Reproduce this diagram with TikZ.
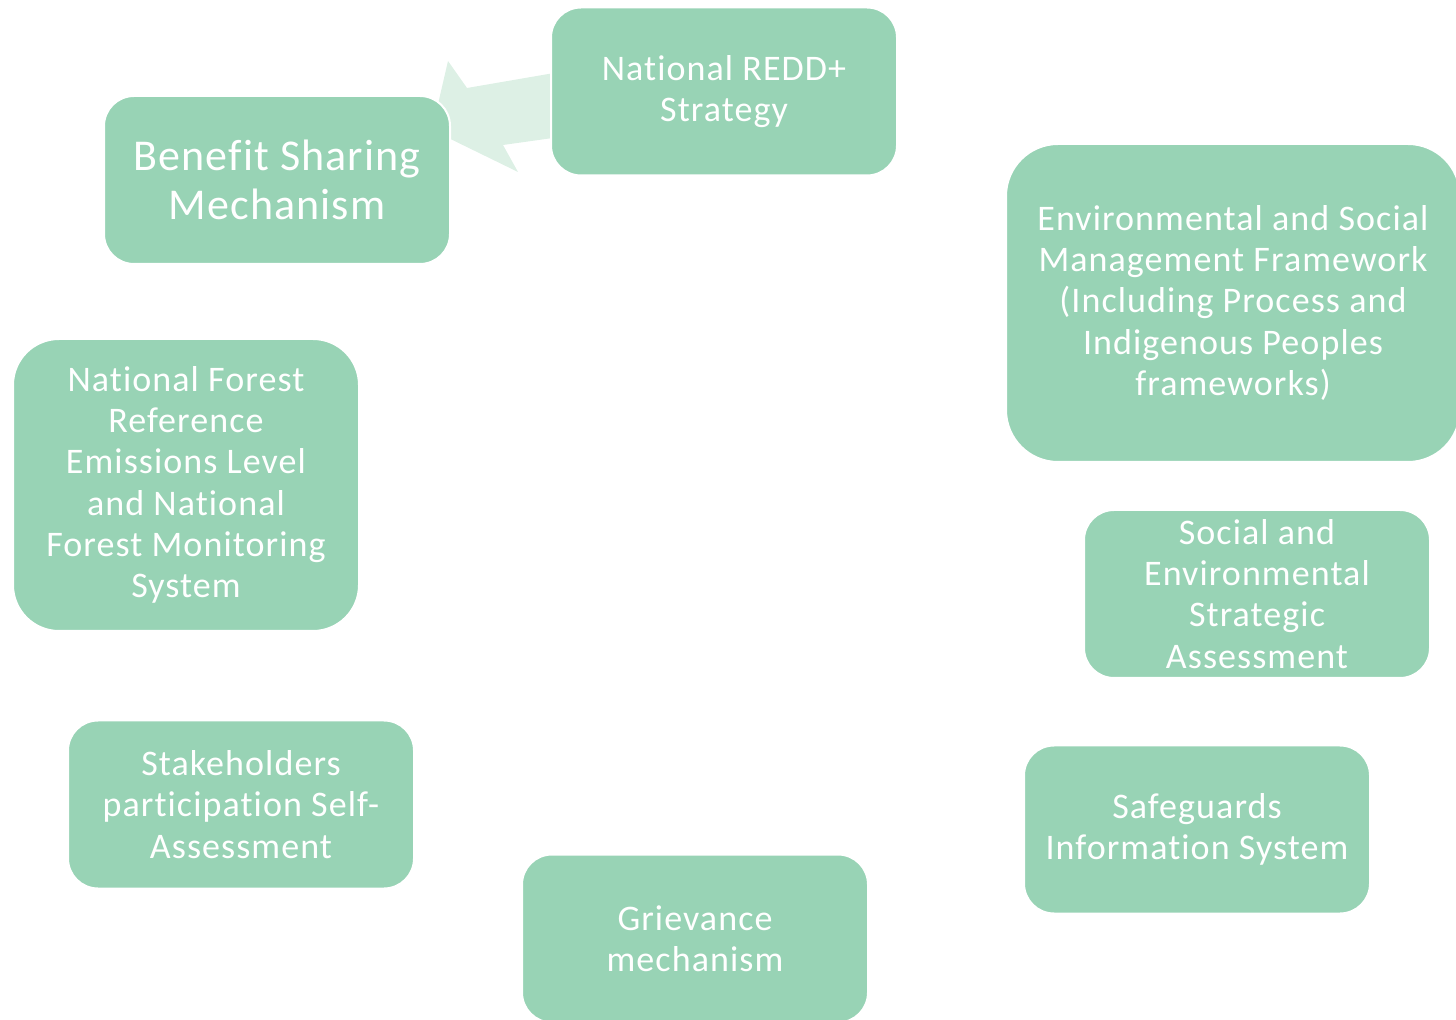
\documentclass[tikz,border=0pt]{standalone}
\usepackage{fontspec}
\setmainfont{Carlito}[LetterSpace=3, Ligatures=NoCommon]
\definecolor{boxgreen}{HTML}{98D3B5}
\definecolor{arrowgreen}{HTML}{DDF0E5}
\begin{document}
\begin{tikzpicture}[x=0.5pt,y=-0.5pt,
  card/.style={fill=boxgreen, draw=white, line width=1pt, rounded corners=15pt,
    text=white, align=center, inner sep=0pt, font=\fontsize{18}{20.6}\selectfont},
  bigcard/.style={card, rounded corners=26pt}]
\useasboundingbox (0,0) rectangle (1456,1020);

% light block arrow from the strategy towards benefit sharing (drawn first, behind the boxes)
\fill[arrowgreen] (432,130) -- (448,61) -- (467,88) -- (560,72) -- (560,137)
  -- (503,145) -- (518,172) -- cycle;

\node[card, minimum width=173pt, minimum height=84pt] (redd) at (724,91.5)
  {National REDD+\\Strategy};
\node[card, minimum width=173pt, minimum height=84pt,
  font=\fontsize{22}{24.5}\selectfont\addfontfeature{LetterSpace=2.5}] (bsm) at (277,180)
  {Benefit Sharing\\Mechanism};
\node[bigcard, minimum width=227pt, minimum height=159pt] (esmf) at (1233,303)
  {Environmental and Social\\Management Framework\\(Including Process and\\Indigenous Peoples\\frameworks)};
\node[card, minimum width=173pt, minimum height=84pt] (sesa) at (1257,594)
  {Social and\\Environmental\\Strategic\\Assessment};
\node[card, minimum width=173pt, minimum height=84pt] (sis) at (1197,829.5)
  {Safeguards\\Information System};
\node[card, minimum width=173pt, minimum height=84pt] (grm) at (695,938.5)
  {Grievance\\mechanism};
\node[card, minimum width=173pt, minimum height=84pt] (sps) at (241,804.5)
  {Stakeholders\\participation Self-\\Assessment};
\node[bigcard, minimum width=173pt, minimum height=146pt, rounded corners=23pt] (nfrel) at (186,485)
  {National Forest\\Reference\\Emissions Level\\and National\\Forest Monitoring\\System};
\end{tikzpicture}
\end{document}
